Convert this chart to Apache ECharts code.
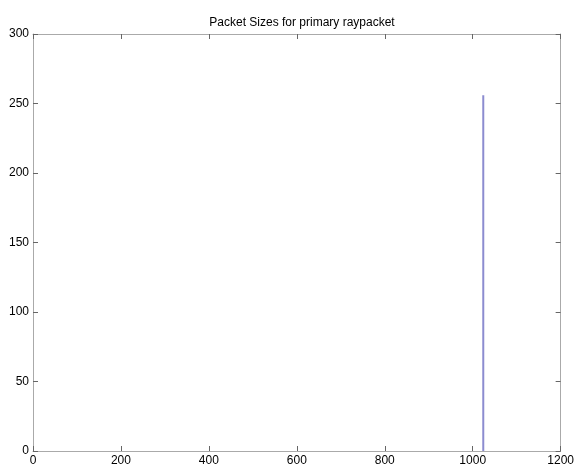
<!DOCTYPE html>
<html>
<head>
<meta charset="utf-8">
<script src="https://cdn.jsdelivr.net/npm/echarts@6/dist/echarts.min.js"></script>
<style>html,body{margin:0;padding:0;background:#fff}#c{width:577px;height:469px}</style>
</head>
<body>
<div id="c"></div>
<script>
const titleText = 'Packet Sizes for primary raypacket';
const packetSizes = [1024];
const packetCounts = [256];
const xTicks = [0, 200, 400, 600, 800, 1000, 1200];
const yTicks = [0, 50, 100, 150, 200, 250, 300];

const lineData = [];
packetSizes.forEach((s, i) => { lineData.push([s, 0], [s, packetCounts[i]]); });

const font = 'Liberation Sans, Arial, Helvetica, sans-serif';
const axisLine = { show: true, onZero: false, lineStyle: { color: '#aaaaaa', width: 1 } };
const tick = { show: true, inside: true, length: 5, lineStyle: { color: '#666666' } };
const fmt = v => String(v);

const chart = echarts.init(document.getElementById('c'), null, { renderer: 'canvas' });
chart.setOption({
  animation: false,
  backgroundColor: '#ffffff',
  title: {
    text: titleText, left: 297, top: 12, textAlign: 'center',
    textStyle: { fontFamily: font, fontSize: 12, fontWeight: 'normal', color: '#000' }
  },
  grid: { left: 33, right: 16, top: 34, bottom: 18, containLabel: false },
  xAxis: [
    { type: 'value', min: xTicks[0], max: xTicks[xTicks.length - 1], interval: 200, position: 'bottom',
      axisLine, axisTick: tick, splitLine: { show: false },
      axisLabel: { fontFamily: font, fontSize: 12, color: '#000', margin: 4, formatter: fmt } },
    { type: 'value', min: xTicks[0], max: xTicks[xTicks.length - 1], interval: 200, position: 'top',
      axisLine, axisTick: tick, splitLine: { show: false }, axisLabel: { show: false } }
  ],
  yAxis: [
    { type: 'value', min: yTicks[0], max: yTicks[yTicks.length - 1], interval: 50, position: 'left',
      axisLine, axisTick: tick, splitLine: { show: false },
      axisLabel: { fontFamily: font, fontSize: 12, color: '#000', margin: 4, formatter: fmt } },
    { type: 'value', min: yTicks[0], max: yTicks[yTicks.length - 1], interval: 50, position: 'right',
      axisLine, axisTick: tick, splitLine: { show: false }, axisLabel: { show: false } }
  ],
  series: [{
    type: 'line', data: lineData, showSymbol: false, symbol: 'none',
    lineStyle: { color: '#8c8cd0', width: 2 }, xAxisIndex: 0, yAxisIndex: 0
  }]
});
</script>
</body>
</html>
